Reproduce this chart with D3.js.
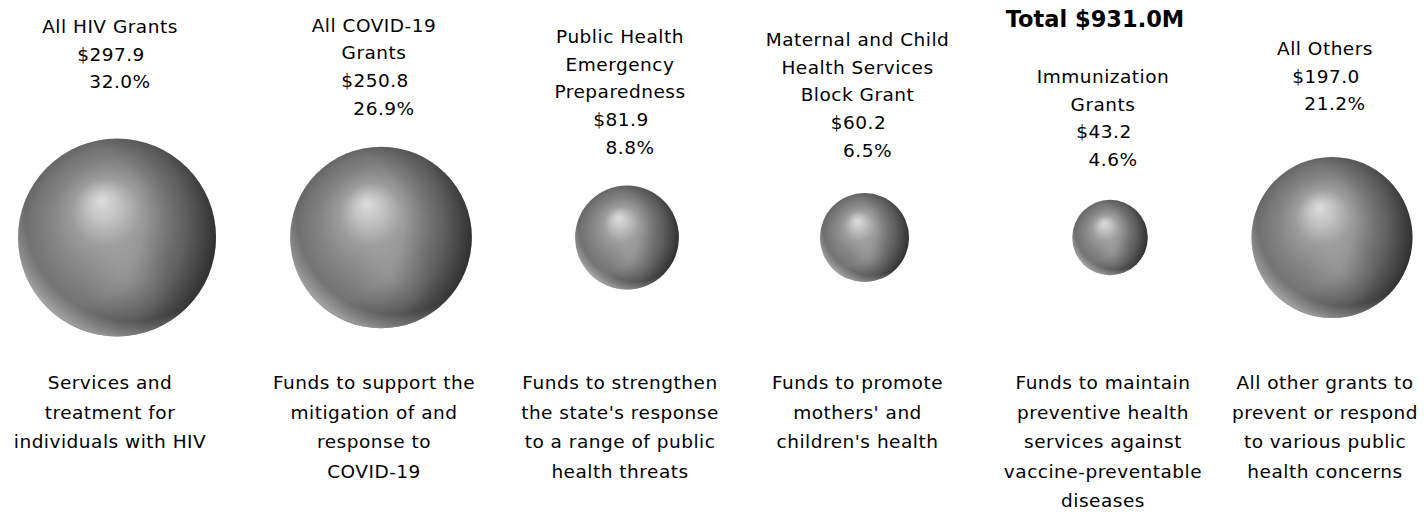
<!DOCTYPE html>
<html>
<head>
<meta charset="utf-8">
<script src="https://cdn.jsdelivr.net/npm/d3@7/dist/d3.min.js"></script>
<style>
  html, body { margin: 0; padding: 0; background: #ffffff; }
  svg { display: block; }
  text { font-family: "DejaVu Sans", sans-serif; fill: #000; }
</style>
</head>
<body>
<svg id="chart" width="1424" height="519"></svg>
<script>
// ---------------- DATA ----------------
const categories = [
  "All HIV Grants",
  "All COVID-19 Grants",
  "Public Health Emergency Preparedness",
  "Maternal and Child Health Services Block Grant",
  "Immunization Grants",
  "All Others"
];
const nameLines = [
  ["All HIV Grants"],
  ["All COVID-19", "Grants"],
  ["Public Health", "Emergency", "Preparedness"],
  ["Maternal and Child", "Health Services", "Block Grant"],
  ["Immunization", "Grants"],
  ["All Others"]
];
const values = [297.9, 250.8, 81.9, 60.2, 43.2, 197.0];       // $ millions
const percents = [32.0, 26.9, 8.8, 6.5, 4.6, 21.2];
const descriptions = [
  ["Services and", "treatment for", "individuals with HIV"],
  ["Funds to support the", "mitigation of and", "response to", "COVID-19"],
  ["Funds to strengthen", "the state's response", "to a range of public", "health threats"],
  ["Funds to promote", "mothers' and", "children's health"],
  ["Funds to maintain", "preventive health", "services against", "vaccine-preventable", "diseases"],
  ["All other grants to", "prevent or respond", "to various public", "health concerns"]
];
const totalLabel = "Total $931.0M";

// ---------------- LAYOUT ----------------
const columnCenters = [110, 374, 620, 857.5, 1103, 1325];
const labelFirstBaseline = [33, 31.5, 43, 46, 83, 55];
const bubbleOffsetX = 7;
const bubbleCY = 237.5;
const labelLH = 27.7;
const descFirstBaseline = 389;
const descLH = 29.5;
const fontSize = 18.5;
const letterSpacing = 0.5;

const svg = d3.select("#chart");

const x = d3.scaleOrdinal().domain(categories).range(columnCenters);
const r = d3.scaleSqrt().domain([0, d3.max(values)]).range([0, 99]);

// ---------- gradients ----------
const defs = svg.append("defs");
function radial(id, attrs, stops) {
  const g = defs.append("radialGradient").attr("id", id);
  Object.entries(attrs).forEach(([k, v]) => g.attr(k, v));
  stops.forEach(s => g.append("stop").attr("offset", s[0]).attr("stop-color", s[1]).attr("stop-opacity", s[2] == null ? 1 : s[2]));
}
radial("sBase", {cx: 0.5, cy: 0.5, r: 0.5, fx: 0.42, fy: 0.31}, [
  [0, "#dcdcdc"], [0.15, "#c4c4c4"], [0.35, "#9c9c9c"], [0.6, "#848484"], [0.85, "#737373"], [1, "#666666"]
]);
radial("sDark", {cx: 0.2, cy: 0.42, r: 0.86}, [
  [0, "#000", 0], [0.5, "#000", 0], [0.75, "#000", 0.22], [0.9, "#000", 0.45], [1, "#000", 0.65]
]);
radial("sRim", {cx: 0.58, cy: 0.38, r: 0.63}, [
  [0, "#fff", 0], [0.86, "#fff", 0], [0.97, "#fff", 0.28], [1, "#fff", 0.38]
]);
radial("sGlow", {cx: 0.56, cy: 0.72, r: 0.22}, [
  [0, "#fff", 0.14], [1, "#fff", 0]
]);

const data = categories.map((c, i) => ({
  cat: c, value: values[i], pct: percents[i], name: nameLines[i], desc: descriptions[i], i
}));

// ---------- bubbles ----------
const bubbles = svg.append("g").selectAll("g").data(data).join("g")
  .attr("transform", d => `translate(${x(d.cat) + bubbleOffsetX},${bubbleCY})`);
["sBase", "sDark", "sRim", "sGlow"].forEach(id => {
  bubbles.append("circle").attr("r", d => r(d.value)).attr("fill", `url(#${id})`);
});

// ---------- top labels ----------
const fmt = d3.format(".1f");
const labels = svg.append("g").selectAll("text").data(data).join("text")
  .attr("text-anchor", "middle")
  .style("font-size", fontSize + "px")
  .style("letter-spacing", letterSpacing + "px");
labels.each(function (d) {
  const t = d3.select(this);
  const lines = d.name.map(s => ({s, dx: 0}))
    .concat([{s: "$" + fmt(d.value), dx: 1}, {s: fmt(d.pct) + "%", dx: 10}]);
  lines.forEach((l, k) => {
    t.append("tspan")
      .attr("x", x(d.cat) + l.dx)
      .attr("y", labelFirstBaseline[d.i] + k * labelLH)
      .text(l.s);
  });
});

// ---------- descriptions ----------
const descs = svg.append("g").selectAll("text").data(data).join("text")
  .attr("text-anchor", "middle")
  .style("font-size", fontSize + "px")
  .style("letter-spacing", letterSpacing + "px");
descs.each(function (d) {
  const t = d3.select(this);
  d.desc.forEach((s, k) => {
    t.append("tspan")
      .attr("x", x(d.cat))
      .attr("y", descFirstBaseline + k * descLH)
      .text(s);
  });
});

// ---------- total ----------
svg.append("text")
  .attr("x", 1095).attr("y", 27)
  .attr("text-anchor", "middle")
  .style("font-size", "22.5px").style("font-weight", "bold")
  .text(totalLabel);
</script>
</body>
</html>
